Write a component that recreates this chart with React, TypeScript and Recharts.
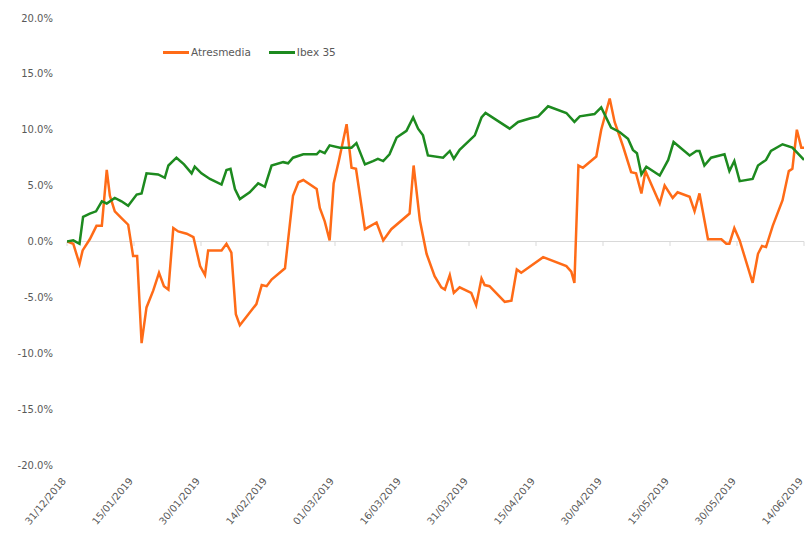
import { Legend, Line, LineChart, ReferenceLine, XAxis, YAxis } from "recharts";

// day offsets from 31/12/2018 and % change
const atresDays = [
  0, 1.4, 2.8, 3.5, 5.1, 6.6, 7.8, 8.9, 9.6, 10.7, 12.2, 13.7, 14.8, 15.7, 16.7, 17.8, 19.3, 20.6, 21.7, 22.7,
  23.8, 24.9, 26.8, 28.3, 29.8, 30.9, 31.6, 34.6, 35.7, 36.8, 37.8, 38.7, 42.4, 43.6, 44.7, 45.8, 48.8, 50.6,
  51.8, 52.9, 55.9, 56.6, 57.7, 58.8, 59.7, 60.9, 62.6, 63.7, 64.7, 66.7, 69.3, 70.8, 72.6, 76.7, 77.6, 79.0,
  80.5, 82.3, 83.8, 84.6, 85.7, 86.6, 87.9, 90.5, 91.6, 92.8, 93.5, 94.6, 98.0, 99.5, 100.7, 101.7, 106.6,
  111.8, 112.9, 113.6, 114.5, 115.5, 118.5, 119.6, 121.5, 122.6, 124.5, 126.3, 127.4, 128.6, 129.5, 132.7,
  133.8, 135.6, 136.7, 139.4, 140.5, 141.6, 143.5, 146.5, 147.6, 148.3, 149.4, 150.6, 153.5, 154.7, 155.6,
  156.5, 158.0, 160.2, 161.6, 162.4, 163.4, 164.4, 165
];
const atresPct = [
  0, -0.2, -2.0, -0.8, 0.2, 1.4, 1.4, 6.4, 4.1, 2.7, 2.1, 1.5, -1.3, -1.3, -9.1, -5.9, -4.4, -2.8, -4.0, -4.3,
  1.2, 0.9, 0.7, 0.4, -2.2, -3.0, -0.8, -0.8, -0.2, -1.0, -6.5, -7.5, -5.6, -3.9, -4.0, -3.4, -2.4, 4.1,
  5.3, 5.5, 4.7, 3.0, 1.8, 0.1, 5.2, 7.3, 10.5, 6.6, 6.5, 1.1, 1.7, 0.1, 1.1, 2.5, 6.8, 1.9,
  -1.1, -3.1, -4.1, -4.3, -3.0, -4.6, -4.1, -4.6, -5.7, -3.3, -3.9, -4.0, -5.4, -5.3, -2.5, -2.8, -1.4,
  -2.2, -2.7, -3.7, 6.8, 6.6, 7.6, 10.0, 12.8, 10.7, 8.5, 6.2, 6.1, 4.3, 6.3, 3.4,
  5.0, 3.9, 4.4, 4.0, 2.7, 4.3, 0.2, 0.2, -0.2, -0.2, 1.2, 0.1, -3.7, -1.1, -0.4,
  -0.5, 1.4, 3.7, 6.3, 6.5, 10.0, 8.4, 8.4
];

const ibexDays = [
  0, 1.4, 2.8, 3.6, 5.1, 6.5, 7.8, 8.9, 10.7, 12.2, 13.7, 15.6, 16.7, 17.8, 20.4, 21.9, 22.7, 24.5, 26.2,
  27.9, 28.6, 30.1, 32.0, 34.6, 35.7, 36.6, 37.6, 38.7, 40.9, 42.8, 44.3, 45.8, 48.4, 49.5, 50.6, 52.9, 55.9,
  56.6, 57.7, 58.8, 61.1, 63.7, 64.8, 66.7, 68.5, 69.6, 70.8, 72.2, 73.8, 76.0, 77.5, 78.6, 79.7, 80.8, 84.2,
  85.7, 86.6, 87.9, 91.3, 92.8, 93.7, 99.1, 101.0, 103.6, 105.5, 107.7, 111.8, 113.6, 114.8, 118.1, 119.6,
  121.8, 123.7, 125.6, 126.7, 127.6, 128.6, 129.7, 132.7, 134.6, 135.8, 139.4, 140.9, 141.6, 142.7, 144.2,
  147.2, 148.3, 149.4, 150.6, 153.5, 154.7, 156.5, 157.6, 160.2, 162.4, 165
];
const ibexPct = [
  0, 0.1, -0.2, 2.2, 2.5, 2.7, 3.6, 3.4, 3.9, 3.6, 3.2, 4.2, 4.3, 6.1, 6.0, 5.7, 6.8, 7.5, 6.9,
  6.1, 6.7, 6.1, 5.6, 5.1, 6.4, 6.5, 4.7, 3.8, 4.4, 5.2, 4.9, 6.8, 7.1, 7.0, 7.5, 7.8, 7.8,
  8.1, 7.9, 8.6, 8.4, 8.4, 8.8, 6.9, 7.2, 7.4, 7.2, 7.8, 9.3, 9.9, 11.1, 10.1, 9.5, 7.7, 7.5,
  8.1, 7.4, 8.2, 9.5, 11.1, 11.5, 10.1, 10.7, 11.0, 11.2, 12.1, 11.5, 10.7, 11.2, 11.4, 12.0,
  10.2, 9.8, 9.2, 8.2, 7.9, 6.0, 6.7, 5.9, 7.3, 8.9, 7.7, 8.1, 8.1, 6.8, 7.5,
  7.8, 6.3, 7.2, 5.4, 5.6, 6.8, 7.3, 8.1, 8.7, 8.4, 7.3
];

const tickDays = [0, 15, 30, 45, 60, 75, 90, 105, 120, 135, 150, 165];
const tickLabels = [
  "31/12/2018", "15/01/2019", "30/01/2019", "14/02/2019", "01/03/2019", "16/03/2019",
  "31/03/2019", "15/04/2019", "30/04/2019", "15/05/2019", "30/05/2019", "14/06/2019"
];
const yTicks = [-20, -15, -10, -5, 0, 5, 10, 15, 20];

const ORANGE = "#ff6b17";
const GREEN = "#1d8a1f";
const TEXT = "#595959";
const FONT = "'DejaVu Sans', sans-serif";

const atresData = atresDays.map((d, i) => ({ day: d, value: atresPct[i] }));
const ibexData = ibexDays.map((d, i) => ({ day: d, value: ibexPct[i] }));

function DateTick({ x, y, payload }: any) {
  const idx = tickDays.indexOf(payload.value);
  const tx = x - 3;
  return (
    <text
      x={tx}
      y={y}
      dy="0.35em"
      textAnchor="end"
      fill={TEXT}
      fontSize={10}
      fontFamily={FONT}
      transform={`rotate(-50, ${tx}, ${y})`}
    >
      {tickLabels[idx]}
    </text>
  );
}

function LegendBox() {
  const items = [
    { name: "Atresmedia", color: ORANGE },
    { name: "Ibex 35", color: GREEN }
  ];
  return (
    <div style={{ display: "flex", alignItems: "center", gap: 18, fontFamily: FONT, fontSize: 10.5, color: TEXT }}>
      {items.map((it) => (
        <div key={it.name} style={{ display: "flex", alignItems: "center", gap: 2 }}>
          <span style={{ display: "inline-block", width: 26, height: 3, background: it.color }} />
          <span>{it.name}</span>
        </div>
      ))}
    </div>
  );
}

export default function App() {
  return (
    <div style={{ position: "absolute", left: 0, top: 0, width: 805, height: 546, background: "#fff" }}>
      <LineChart width={805} height={546} margin={{ top: 18, right: 1, bottom: 0, left: 0 }}>
        <XAxis
          dataKey="day"
          type="number"
          domain={[0, 165]}
          ticks={tickDays}
          interval={0}
          allowDataOverflow
          axisLine={false}
          tickLine={false}
          tickSize={0}
          tickMargin={14}
          height={69}
          tick={<DateTick />}
        />
        <YAxis
          domain={[-20, 20]}
          ticks={yTicks}
          interval={0}
          width={67}
          axisLine={false}
          tickLine={false}
          tickSize={0}
          tickMargin={14}
          tick={{ fill: TEXT, fontSize: 10, fontFamily: FONT }}
          tickFormatter={(v: number) => `${v.toFixed(1)}%`}
        />
        <ReferenceLine y={0} stroke="#d9d9d9" strokeWidth={1.2} />
        {tickDays.map((d) => (
          <ReferenceLine
            key={d}
            segment={[
              { x: d, y: 0 },
              { x: d, y: -0.4 }
            ]}
            stroke="#d9d9d9"
            strokeWidth={1}
          />
        ))}
        <Legend content={<LegendBox />} wrapperStyle={{ top: 46, left: 163, width: "auto" }} />
        <Line
          data={atresData}
          dataKey="value"
          name="Atresmedia"
          stroke={ORANGE}
          strokeWidth={2.5}
          dot={false}
          isAnimationActive={false}
        />
        <Line
          data={ibexData}
          dataKey="value"
          name="Ibex 35"
          stroke={GREEN}
          strokeWidth={2.5}
          dot={false}
          isAnimationActive={false}
        />
      </LineChart>
    </div>
  );
}
